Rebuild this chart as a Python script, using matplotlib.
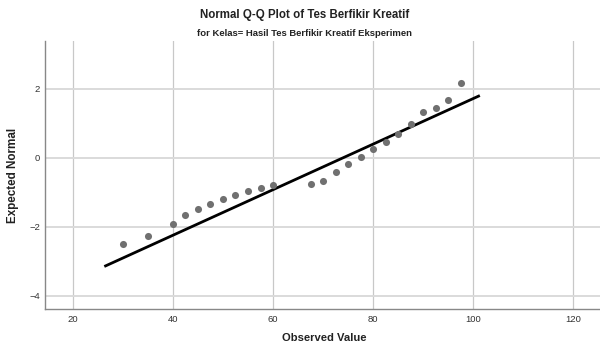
import matplotlib
matplotlib.use("Agg")
import matplotlib.pyplot as plt

plt.rcParams['font.family'] = ['Liberation Sans', 'DejaVu Sans']

observed = [30, 35, 40, 42.5, 45, 47.5, 50, 52.5, 55, 57.5, 60, 67.5, 70, 72.5,
            75, 77.5, 80, 82.5, 85, 87.5, 90, 92.5, 95, 97.5]
expected = [-2.51, -2.26, -1.93, -1.67, -1.49, -1.33, -1.21, -1.08, -0.96, -0.87,
            -0.80, -0.77, -0.68, -0.42, -0.17, 0.03, 0.24, 0.46, 0.69, 0.99,
            1.32, 1.43, 1.67, 2.17]
line_x = [26.3, 101.3]
line_y = [-3.15, 1.80]
x_ticks = [20, 40, 60, 80, 100, 120]
y_ticks = [-4, -2, 0, 2]

fig = plt.figure(figsize=(6, 3.5), dpi=100)
ax = fig.add_axes([0.0758, 0.1163, 0.9242, 0.7666])

ax.set_xlim(14.55, 125.3)
ax.set_ylim(-4.39, 3.38)

for t in x_ticks:
    ax.axvline(t, color='#c8c8c8', lw=0.9, zorder=0)
for t in y_ticks:
    ax.axhline(t, color='#dadada', lw=1.4, zorder=0)

ax.plot(line_x, line_y, color='black', lw=2.0, zorder=2, solid_capstyle='butt')
ax.scatter(observed, expected, s=26, color='#707070', zorder=3, linewidths=0)

ax.set_xticks(x_ticks)
ax.set_yticks(y_ticks)
ax.tick_params(length=0, labelsize=6.8, colors='#333333', pad=4)
for s in ['top', 'right']:
    ax.spines[s].set_visible(False)
for s in ['left', 'bottom']:
    ax.spines[s].set_color('#888888')
    ax.spines[s].set_linewidth(1.0)

fig.text(0.508, 0.957, 'Normal Q-Q Plot of Tes Berfikir Kreatif', ha='center', va='center',
         fontsize=8.3, fontweight='bold', color='#222222')
fig.text(0.508, 0.905, 'for Kelas= Hasil Tes Berfikir Kreatif Eksperimen', ha='center', va='center',
         fontsize=6.8, fontweight='bold', color='#222222')
fig.text(0.541, 0.035, 'Observed Value', ha='center', va='center',
         fontsize=8.1, fontweight='bold', color='#222222')
fig.text(0.022, 0.5, 'Expected Normal', ha='center', va='center', rotation=90,
         fontsize=8.4, fontweight='bold', color='#222222')

fig.savefig('out.png', dpi=100)
